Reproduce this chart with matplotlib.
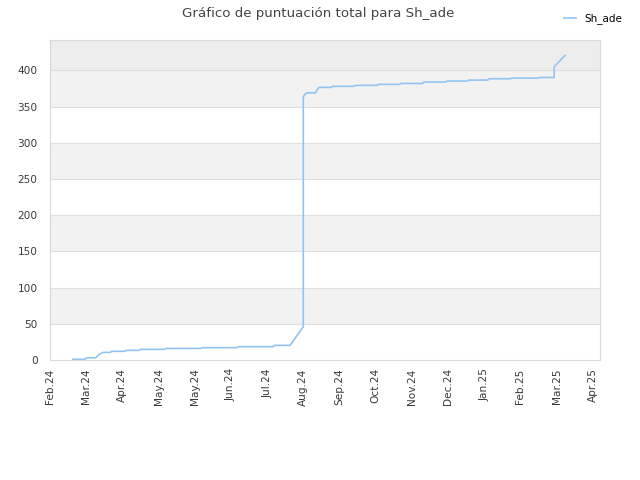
import matplotlib
matplotlib.use("Agg")
import matplotlib.pyplot as plt
import pandas as pd

title = "Gráfico de puntuación total para Sh_ade"
series_name = "Sh_ade"

dates = ["2024-02-20", "2024-03-01", "2024-03-02", "2024-03-10", "2024-03-11", "2024-03-13",
         "2024-03-16", "2024-03-22", "2024-03-23", "2024-04-03", "2024-04-04", "2024-04-15",
         "2024-04-16", "2024-05-06", "2024-05-07", "2024-06-05", "2024-06-06", "2024-07-05",
         "2024-07-06", "2024-08-04", "2024-08-05", "2024-08-18", "2024-08-29", "2024-08-29",
         "2024-08-30", "2024-09-01", "2024-09-08", "2024-09-10", "2024-09-11", "2024-09-21",
         "2024-09-22", "2024-10-10", "2024-10-11", "2024-10-29", "2024-10-30", "2024-11-17",
         "2024-11-18", "2024-12-06", "2024-12-07", "2024-12-25", "2024-12-26", "2025-01-12",
         "2025-01-13", "2025-01-29", "2025-01-30", "2025-02-17", "2025-02-18", "2025-03-12",
         "2025-03-13", "2025-03-25", "2025-03-25", "2025-04-03"]
values = [1, 1, 3, 3, 5, 8,
          10.5, 10.5, 12, 12, 13.3, 13.3,
          14.7, 14.7, 16, 16, 17, 17,
          18.4, 18.4, 20.2, 20.2, 46, 363,
          366.5, 369, 369, 374.7, 376.5, 376.5,
          378, 378, 379.3, 379.3, 380.7, 380.7,
          382, 382, 384, 384, 385.3, 385.3,
          386.6, 386.6, 388.5, 388.5, 389.4, 389.4,
          390.3, 390.3, 405, 420.7]

tick_start = "2024-02-01"
tick_labels = ["Feb.24", "Mar.24", "Apr.24", "May.24", "May.24", "Jun.24", "Jul.24", "Aug.24",
               "Sep.24", "Oct.24", "Nov.24", "Dec.24", "Jan.25", "Feb.25", "Mar.25", "Apr.25"]
y_ticks = [0, 50, 100, 150, 200, 250, 300, 350, 400]

fig = plt.figure(figsize=(6.4, 4.8), dpi=100)
ax = fig.add_axes([50/640, 120/480, 550/640, 320/480])

x = pd.to_datetime(dates)
start = pd.Timestamp(tick_start)
tick_dates = [start + pd.Timedelta(days=30*i) for i in range(len(tick_labels))]

ymax = 442
xmax = start + pd.Timedelta(days=456)

# alternating bands
for i in range(0, 9):
    lo = i * 50
    hi = min((i + 1) * 50, ymax)
    if i == 8:
        ax.axhspan(lo, hi, color="#ededed", zorder=0, lw=0)
    elif i % 2 == 1:
        ax.axhspan(lo, hi, color="#f2f2f2", zorder=0, lw=0)
for yt in y_ticks[1:]:
    ax.axhline(yt, color="#dedede", lw=0.8, zorder=1)

ax.plot(x, values, color="#92c4f2", lw=1.2, label=series_name, zorder=3)

ax.set_xlim(start, xmax)
ax.set_ylim(0, ymax)
ax.set_xticks(tick_dates)
ax.set_xticklabels(tick_labels, rotation=90, fontsize=7.6, color="#3a3a3a")
ax.set_yticks(y_ticks)
ax.set_yticklabels([str(v) for v in y_ticks], fontsize=7.6, color="#3a3a3a")
ax.tick_params(length=0, pad=9)
ax.tick_params(axis="x", pad=6)
for s in ax.spines.values():
    s.set_color("#d9d9d9")
    s.set_linewidth(0.8)

fig.text(318/640, 1 - 13/480, title, ha="center", va="center", fontsize=9.6, color="#444444")
fig.legend(loc="upper right", bbox_to_anchor=(632/640, 1 - 4/480), frameon=False,
           fontsize=7.5, handlelength=1.2, handletextpad=0.8)

fig.savefig("out.png", dpi=100)
